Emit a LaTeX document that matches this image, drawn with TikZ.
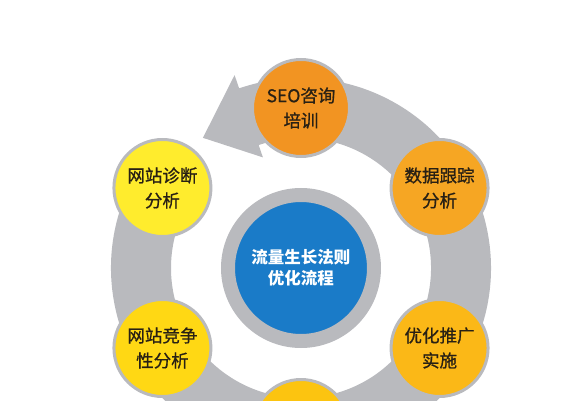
\documentclass[tikz,border=0pt]{standalone}
\usepackage{fontspec}
\newfontfamily\cjk{Noto Sans CJK SC}[FakeBold=0.9]
\newfontfamily\cjkcore{Noto Sans CJK SC}
\definecolor{ringgrey}{RGB}{185,186,190}
\definecolor{textdark}{RGB}{40,32,20}
\definecolor{seoorange}{RGB}{242,148,34}
\definecolor{trackorange}{RGB}{246,166,35}
\definecolor{promoorange}{RGB}{251,184,23}
\definecolor{bottomyellow}{RGB}{252,196,16}
\definecolor{competeyellow}{RGB}{255,216,20}
\definecolor{diagyellow}{RGB}{255,236,45}
\definecolor{coreblue}{RGB}{26,123,200}

\begin{document}
\begin{tikzpicture}[x=1pt,y=1pt,
  petal/.style={circle,draw=ringgrey,line width=3pt,minimum size=97pt,inner sep=0pt,
    align=center,text=textdark,font=\cjk\fontsize{17.5}{25}\selectfont},
  core/.style={circle,draw=ringgrey,line width=14pt,fill=coreblue,minimum size=146pt,
    inner sep=0pt,align=center,text=white,font=\cjkcore\bfseries\fontsize{16.5}{21}\selectfont}]
\useasboundingbox (-301,-132) rectangle (281,268);
\clip (-301,-132) rectangle (281,268);
\fill[ringgrey] (150:190) arc[start angle=150,end angle=469,radius=190]
  -- (109:204) -- (127:163) -- (109:117) -- (109:130)
  arc[start angle=469,end angle=150,radius=130] -- cycle;
\node[core] (center) at (0,0) {流量生长法则\\优化流程};
\node[petal,fill=seoorange] (seo) at (90:160) {SEO咨询\\培训};
\node[petal,fill=trackorange] (track) at (30:160) {数据跟踪\\分析};
\node[petal,fill=promoorange] (promo) at (-30:160) {优化推广\\实施};
\node[petal,fill=bottomyellow] (bottom) at (-90:160) {};
\node[petal,fill=competeyellow] (compete) at (210:160) {网站竞争\\性分析};
\node[petal,fill=diagyellow] (diag) at (150:160) {网站诊断\\分析};
\end{tikzpicture}
\end{document}
